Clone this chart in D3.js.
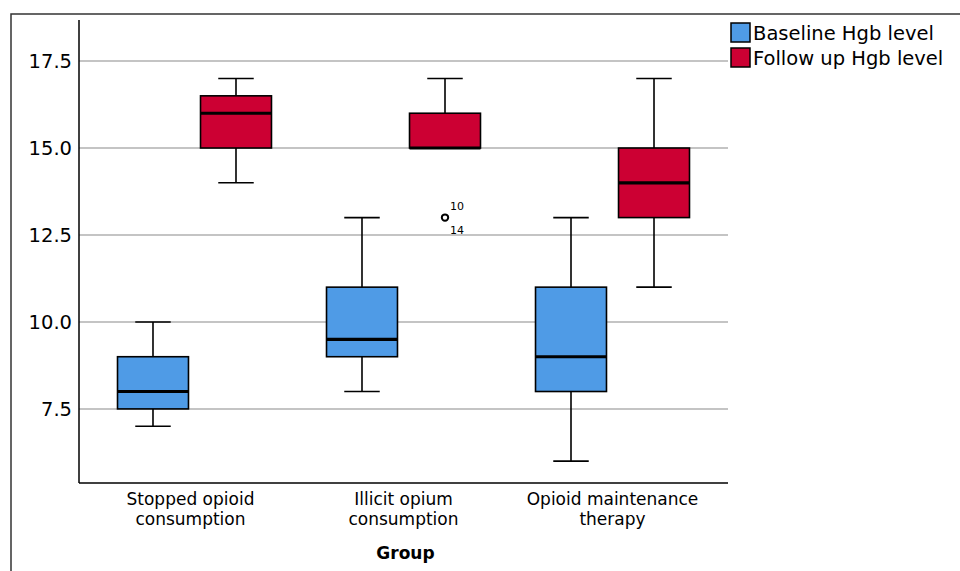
<!DOCTYPE html>
<html>
<head>
<meta charset="utf-8">
<title>Hgb level by group</title>
<style>
  body { margin: 0; background: #fff; }
  svg text { font-family: "DejaVu Sans", sans-serif; fill: #000; }
</style>
</head>
<body>
<svg id="svg" width="960" height="571"></svg>
<script src="https://d3js.org/d3.v7.min.js"></script>
<script>
    // categories and series
    const groups = [["Stopped opioid", "consumption"], ["Illicit opium", "consumption"], ["Opioid maintenance", "therapy"]];
    const series = ["Baseline Hgb level", "Follow up Hgb level"];
    const colors = ["#4f9be6", "#cc0033"];

    // five-number summaries per group: [min, q1, median, q3, max]
    const baseline = [[7, 7.5, 8, 9, 10], [8, 9, 9.5, 11, 13], [6, 8, 9, 11, 13]];
    const followup = [[14, 15, 16, 16.5, 17], [15, 15, 15, 16, 17], [11, 13, 14, 15, 17]];

    // outliers: group index, series index, value, case labels
    const outliers = [{g: 1, s: 1, value: 13, cases: ["10", "14"]}];

    const yTicks = [7.5, 10.0, 12.5, 15.0, 17.5];

    const svg = d3.select("#svg");
    const plotL = 79, plotR = 728, plotT = 20, plotB = 483;

    // outer frame
    svg.append("path")
        .attr("d", "M11,571V14H960")
        .attr("fill", "none")
        .attr("stroke", "#333")
        .attr("stroke-width", 1.5);

    const y = d3.scaleLinear().domain([5.37, 18.68]).range([plotB, plotT]);
    const x = d3.scaleBand().domain(d3.range(groups.length)).range([plotL, plotR]).paddingOuter(0.0526);
    const xs = d3.scaleBand().domain(d3.range(series.length)).range([0, x.step()])
        .paddingInner(0.145).paddingOuter(0.3315);

    // gridlines
    svg.append("g").selectAll("line")
        .data(yTicks)
        .enter().append("line")
        .attr("x1", plotL).attr("x2", plotR)
        .attr("y1", d => y(d)).attr("y2", d => y(d))
        .attr("stroke", "#c4c4c4")
        .attr("stroke-width", 2);

    // y axis
    const yAxis = svg.append("g")
        .attr("transform", "translate(" + plotL + ",0)")
        .call(d3.axisLeft(y).tickValues(yTicks).tickFormat(d3.format(".1f")).tickSize(0).tickPadding(7));
    yAxis.select(".domain").remove();
    yAxis.selectAll("text").style("font-size", "19.5px").style("font-family", "DejaVu Sans");

    svg.append("line")
        .attr("x1", plotL).attr("x2", plotL).attr("y1", plotT).attr("y2", plotB)
        .attr("stroke", "#000").attr("stroke-width", 1.5);
    svg.append("line")
        .attr("x1", plotL).attr("x2", plotR).attr("y1", plotB).attr("y2", plotB)
        .attr("stroke", "#000").attr("stroke-width", 1.5);

    // boxes
    const boxes = [];
    groups.forEach(function(g, gi) {
        [baseline, followup].forEach(function(arr, si) {
            boxes.push({g: gi, s: si, st: arr[gi]});
        });
    });

    const bw = xs.bandwidth();
    const bx = d => x(d.g) - (x.step() - x.bandwidth()) / 2 + xs(d.s);

    const box = svg.append("g").selectAll("g")
        .data(boxes)
        .enter().append("g")
        .attr("transform", d => "translate(" + bx(d) + ",0)");

    // whiskers
    box.append("line")
        .attr("x1", bw / 2).attr("x2", bw / 2)
        .attr("y1", d => y(d.st[4])).attr("y2", d => y(d.st[3]))
        .attr("stroke", "#000").attr("stroke-width", 1.6);
    box.append("line")
        .attr("x1", bw / 2).attr("x2", bw / 2)
        .attr("y1", d => y(d.st[0])).attr("y2", d => y(d.st[1]))
        .attr("stroke", "#000").attr("stroke-width", 1.6);
    box.append("line")
        .attr("x1", bw / 4).attr("x2", bw * 3 / 4)
        .attr("y1", d => y(d.st[4])).attr("y2", d => y(d.st[4]))
        .attr("stroke", "#000").attr("stroke-width", 1.6)
        .attr("display", d => d.st[4] === d.st[3] ? "none" : null);
    box.append("line")
        .attr("x1", bw / 4).attr("x2", bw * 3 / 4)
        .attr("y1", d => y(d.st[0])).attr("y2", d => y(d.st[0]))
        .attr("stroke", "#000").attr("stroke-width", 1.6)
        .attr("display", d => d.st[0] === d.st[1] ? "none" : null);

    box.append("rect")
        .attr("x", 0).attr("width", bw)
        .attr("y", d => y(d.st[3]))
        .attr("height", d => y(d.st[1]) - y(d.st[3]))
        .attr("fill", d => colors[d.s])
        .attr("stroke", "#000").attr("stroke-width", 1.6);

    box.append("line")
        .attr("x1", 0).attr("x2", bw)
        .attr("y1", d => y(d.st[2])).attr("y2", d => y(d.st[2]))
        .attr("stroke", "#000").attr("stroke-width", 3.2);

    // outliers
    const out = svg.append("g").selectAll("g")
        .data(outliers)
        .enter().append("g")
        .attr("transform", d => "translate(" + (bx(d) + bw / 2) + "," + y(d.value) + ")");
    out.append("circle")
        .attr("r", 3.2)
        .attr("fill", "#fff")
        .attr("stroke", "#000").attr("stroke-width", 2);
    out.append("text")
        .attr("x", 5).attr("y", -8)
        .style("font-size", "11px")
        .text(d => d.cases[0]);
    out.append("text")
        .attr("x", 5).attr("y", 16)
        .style("font-size", "11px")
        .text(d => d.cases[1]);

    // category labels
    const cat = svg.append("g").selectAll("text")
        .data(groups)
        .enter().append("text")
        .attr("text-anchor", "middle")
        .attr("x", (d, i) => x(i) + x.bandwidth() / 2)
        .attr("y", 505)
        .style("font-size", "17px");
    cat.append("tspan").attr("x", (d, i) => x(i) + x.bandwidth() / 2 - (i === 0 ? 4 : 0)).attr("dy", 0).text(d => d[0]);
    cat.append("tspan").attr("x", (d, i) => x(i) + x.bandwidth() / 2 - (i === 0 ? 4 : 0)).attr("dy", 20).text(d => d[1]);

    svg.append("text")
        .attr("x", (plotL + plotR) / 2 + 2)
        .attr("y", 559)
        .attr("text-anchor", "middle")
        .style("font-size", "17px")
        .style("font-weight", "bold")
        .text("Group");

    // legend
    const legend = svg.append("g").selectAll("g")
        .data(series)
        .enter().append("g")
        .attr("transform", (d, i) => "translate(731," + (23 + i * 25) + ")");
    legend.append("rect")
        .attr("width", 19).attr("height", 19)
        .attr("fill", (d, i) => colors[i])
        .attr("stroke", "#000").attr("stroke-width", 1.5);
    legend.append("text")
        .attr("x", 22).attr("y", 17)
        .style("font-size", "19.5px")
        .text(d => d);
</script>
</body>
</html>
